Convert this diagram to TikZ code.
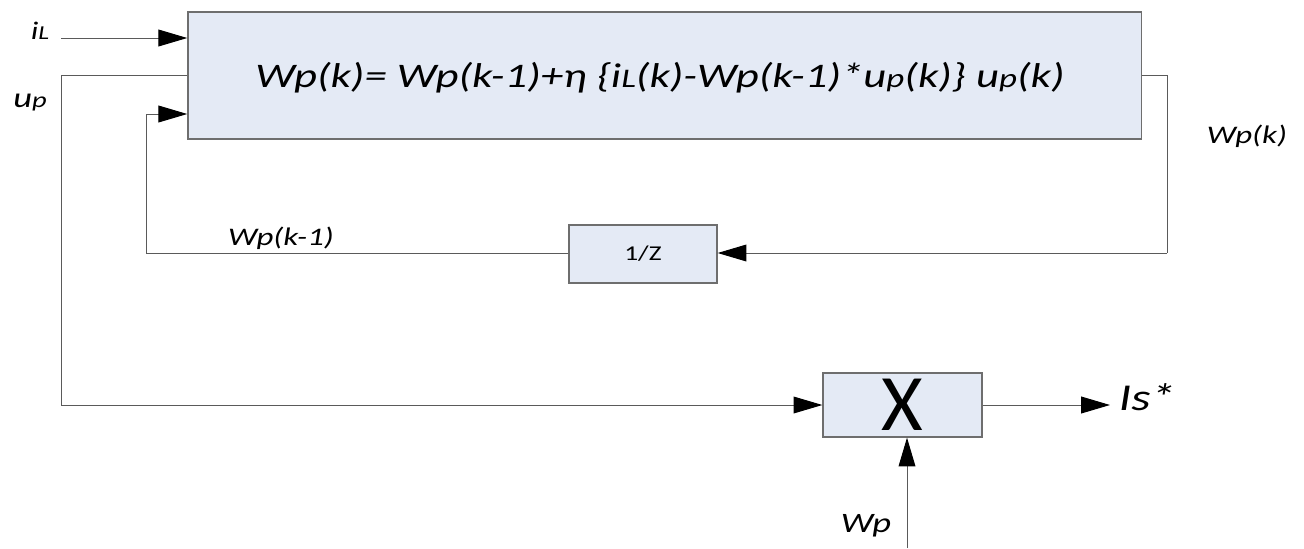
\documentclass[tikz,border=0pt]{standalone}
\usepackage{fontspec}
\setmainfont{Carlito}[FakeStretch=1.3]
\newfontfamily\plainfont{Carlito}
\usetikzlibrary{arrows.meta,positioning,calc}
\definecolor{boxblue}{RGB}{228,234,245}
\definecolor{boxedge}{RGB}{110,110,110}
\definecolor{wire}{RGB}{90,90,90}
\tikzset{
  blk/.style={draw=boxedge, line width=0.9pt, fill=boxblue, rectangle, inner sep=0pt},
  lbl/.style={font=\itshape\fontsize{18}{21}\selectfont, inner sep=0pt},
  sig/.style={wire, line width=0.7pt, -{Triangle[length=0.72cm,width=0.42cm,color=black]}},
  wirel/.style={wire, line width=0.7pt}
}
\makeatletter
\newcommand{\sub}[1]{{\fontsize{\dimexpr 0.78\dimexpr\f@size pt\relax\relax}{0}\selectfont #1}}
\makeatother
\begin{document}
\begin{tikzpicture}[x=0.025cm,y=-0.025cm]
\useasboundingbox (0,0) rectangle (1304,548);

% blocks
\node[blk, minimum width=23.825cm, minimum height=3.175cm] (upd) at (664.5,75.5) {};
\node[inner sep=0pt] (updtxt) at (660,78)
  {\itshape\fontsize{24.5}{30}\selectfont Wp(k)= Wp(k-1)+η \{i\sub{L}(k)-Wp(k-1)*u\sub{p}(k)\} u\sub{p}(k)};
\node[blk, minimum width=3.7cm, minimum height=1.45cm] (dly) at (643,254) {\fontsize{15}{18}\selectfont 1/Z};
\node[blk, minimum width=3.975cm, minimum height=1.6cm] (mul) at (902.5,405) {\plainfont\fontsize{57}{60}\selectfont X};

% labels
\node[lbl, font=\itshape\fontsize{18}{22}\selectfont] (iL) at (40,31) {i\sub{L}};
\node[lbl, font=\itshape\fontsize{20}{24}\selectfont] (up) at (30,103) {u\sub{p}};
\node[lbl] (wpk) at (1247,136) {Wp(k)};
\node[lbl] (wpk1) at (281,238) {Wp(k-1)};
\node[lbl, font=\itshape\fontsize{27}{30}\selectfont] (is) at (1147,397) {Is*};
\node[lbl, font=\itshape\fontsize{20}{24}\selectfont] (wp) at (866,526) {Wp};

% end points
\coordinate (iLin) at (61,38);
\coordinate (upc1) at (61,75);
\coordinate (upc2) at (61,405);
\coordinate (fbc1) at (146,114);
\coordinate (fbc2) at (146,253);
\coordinate (outc1) at (1167,75);
\coordinate (outc2) at (1167,253);
\coordinate (isend) at (1110,405);
\coordinate (wpin) at (907,548);

% connections
\draw[sig] (iLin) -- (upd.west |- iLin);
\draw[wirel] (upd.west |- upc1) -- (upc1) -- (upc2);
\draw[sig] (upc2) -- (mul.west |- upc2);
\draw[wirel] (dly.west |- fbc2) -- (fbc2) -- (fbc1);
\draw[sig] (fbc1) -- (upd.west |- fbc1);
\draw[wirel] (upd.east |- outc1) -- (outc1) -- (outc2);
\draw[sig] (outc2) -- (dly.east |- outc2);
\draw[sig] (mul.east |- isend) -- (isend);
\draw[sig] (wpin) -- (wpin |- mul.south);

\end{tikzpicture}
\end{document}
